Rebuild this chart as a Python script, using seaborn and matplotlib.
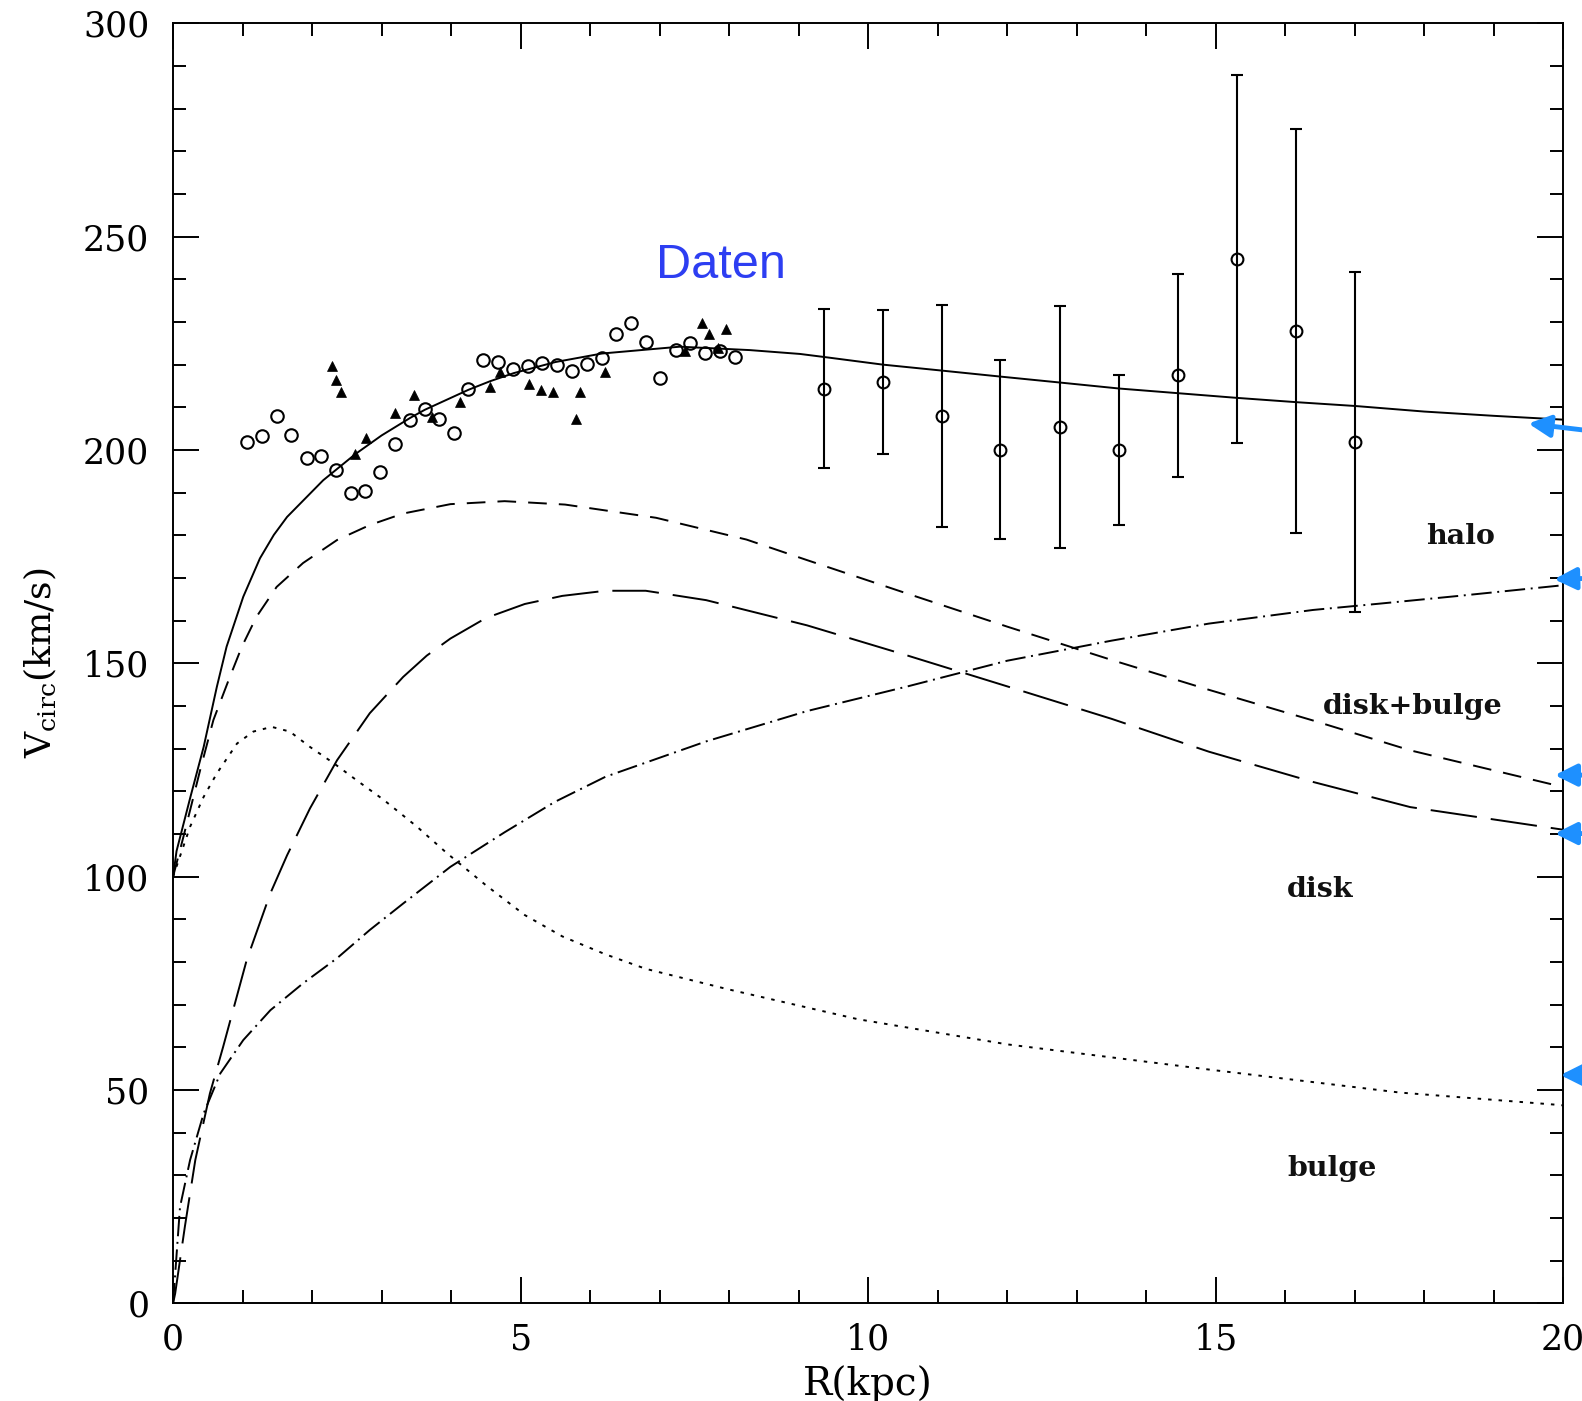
import matplotlib
matplotlib.use("Agg")
import matplotlib.pyplot as plt
import matplotlib.ticker as mticker
import numpy as np
import pandas as pd
import seaborn as sns

# ---- model curves: circular velocity (km/s) vs. radius (kpc) ----
R_total = [0, 0.05, 0.25, 0.44, 0.63, 0.77, 1.01, 1.25, 1.45, 1.64, 2.16, 2.62, 3.0, 3.41,
           3.62, 4.25, 4.56, 4.9, 5.5, 6.17, 7.29, 8.3, 9.02, 9.36, 10.21, 11.06, 11.9, 12.76,
           13.61, 14.46, 15.31, 16.16, 17.01, 18.0, 19.0, 20.0]
V_total = [100, 106, 118.7, 130.4, 144.5, 153.9, 165.6, 174.6, 180.1, 184.3, 192.9, 199.0,
           203.4, 207.5, 209.4, 214.1, 216.1, 218.0, 220.6, 222.6, 224.2, 223.4, 222.5, 221.8,
           220.0, 218.6, 217.2, 215.8, 214.4, 213.3, 212.2, 211.2, 210.3, 209.0, 208.0, 207.1]

R_diskbulge = [0, 0.15, 0.39, 0.58, 0.80, 0.99, 1.20, 1.49, 1.87, 2.36, 2.83, 3.31, 3.99,
               4.77, 5.64, 6.95, 8.25, 9.1, 10.57, 12.0, 13.5, 14.9, 16.4, 17.8, 20.0]
V_diskbulge = [100, 109.4, 125, 136.7, 146.1, 153.9, 160.9, 167.9, 173.5, 178.9, 182.4,
               185.1, 187.3, 188.0, 187.2, 184.1, 179.0, 174.3, 166.3, 158.6, 150.8, 143.8,
               136.6, 129.6, 121.0]

R_disk = [0, 0.03, 0.17, 0.32, 0.53, 0.72, 0.89, 1.06, 1.23, 1.40, 1.64, 1.97, 2.36, 2.83,
          3.31, 3.65, 3.99, 4.5, 5.06, 5.6, 6.22, 6.8, 7.67, 9.12, 10.57, 12.0, 13.5, 14.9,
          16.4, 17.8, 20.0]
V_disk = [0, 2.3, 18.0, 33.6, 49.2, 60.1, 70.3, 80.5, 88.3, 96.1, 105.0, 116.0, 127.3, 138.3,
          146.8, 151.8, 155.8, 160.6, 163.9, 165.8, 167.0, 167.0, 164.8, 158.9, 151.8, 144.6,
          137.0, 129.3, 122.2, 116.3, 111.0]

R_halo = [0, 0.1, 0.245, 0.44, 0.68, 1.01, 1.40, 1.87, 2.36, 2.83, 3.31, 3.99, 4.77, 5.49,
          6.22, 7.67, 9.12, 10.57, 12.0, 13.5, 14.9, 16.4, 17.37, 18.5, 20.0]
V_halo = [0, 22.6, 33.6, 44.5, 53.9, 61.7, 68.7, 75.0, 80.9, 87.5, 93.7, 102.3, 110.4, 117.5,
          123.4, 131.7, 138.8, 144.6, 150.6, 155.3, 159.3, 162.5, 164.0, 165.8, 168.3]

R_bulge = [0, 0.245, 0.44, 0.63, 0.92, 1.155, 1.42, 1.68, 1.97, 2.31, 2.64, 3.03, 3.51, 3.94,
           4.5, 5.06, 5.6, 6.22, 6.8, 7.96, 9.85, 12.0, 14.9, 17.65, 19.86, 20.0]
V_bulge = [100, 111.7, 118.7, 124.2, 131.2, 134.0, 135.1, 134.0, 130.4, 126.6, 122.6, 118.0,
           111.7, 105.5, 98.0, 91.0, 86.0, 81.8, 78.4, 73.7, 66.6, 60.7, 54.8, 49.4, 46.6, 46.4]

# ---- measurements ----
R_open = [1.07, 1.28, 1.49, 1.70, 1.92, 2.125, 2.34, 2.56, 2.76, 2.98, 3.19, 3.41, 3.62, 3.83,
          4.04, 4.25, 4.46, 4.68, 4.89, 5.10, 5.31, 5.53, 5.74, 5.95, 6.17, 6.37, 6.59, 6.80,
          7.01, 7.23, 7.44, 7.65, 7.87, 8.08]
V_open = [201.8, 203.3, 208.0, 203.4, 198.0, 198.6, 195.3, 189.8, 190.4, 194.9, 201.5, 207.1,
          209.7, 207.3, 203.9, 214.3, 221.0, 220.5, 219.0, 219.7, 220.4, 219.8, 218.5, 220.1,
          221.6, 227.2, 229.7, 225.4, 216.9, 223.4, 225.1, 222.7, 223.3, 221.8]

R_tri = [2.28, 2.35, 2.42, 2.62, 2.77, 3.19, 3.46, 3.73, 4.13, 4.56, 4.71, 5.12, 5.29, 5.47,
         5.80, 5.86, 6.22, 7.37, 7.61, 7.71, 7.84, 7.95]
V_tri = [219.7, 216.5, 213.5, 199.0, 202.7, 208.6, 212.8, 207.8, 211.2, 214.8, 218.3, 215.4,
         214.0, 213.5, 207.2, 213.6, 218.3, 223.3, 229.7, 227.2, 224.0, 228.3]

R_err = [9.36, 10.21, 11.06, 11.90, 12.76, 13.61, 14.46, 15.31, 16.16, 17.01]
V_err = [214.4, 215.9, 207.9, 200.1, 205.4, 200.0, 217.5, 244.7, 227.9, 201.9]
E_err = [18.7, 16.8, 26.0, 21.0, 28.4, 17.5, 23.8, 43.1, 47.4, 39.9]

# ---- component labels and arrow tips ----
labels = ["halo", "disk+bulge", "disk", "bulge"]
label_R = [18.52, 17.83, 16.5, 16.67]
label_V = [179.8, 139.9, 96.9, 31.6]

arrow_tip_R = [19.5, 19.87, 19.88, 19.88, 19.96]
arrow_tip_V = [206.2, 169.7, 123.8, 110.1, 53.5]
arrow_tail_V = [203.5, 170.0, 123.8, 110.1, 53.5]

sns.set_theme(style="ticks")
plt.rcParams["font.family"] = ["DejaVu Serif", "DejaVu Sans"]
plt.rcParams["mathtext.fontset"] = "dejavuserif"
plt.rcParams["text.color"] = "black"
plt.rcParams["axes.labelcolor"] = "black"

fig = plt.figure(figsize=(15.82, 14.01), dpi=100)
ax = fig.add_axes([0.1094, 0.0697, 0.8787, 0.9137])

LW = 1.4
curves = [
    (R_total, V_total, "-"),
    (R_diskbulge, V_diskbulge, (0, (9.6, 6.2))),
    (R_disk, V_disk, (0, (24, 7.2))),
    (R_halo, V_halo, (0, (10.5, 2.9, 1.0, 2.9))),
    (R_bulge, V_bulge, (0, (1.8, 3.6))),
]
for rr, vv, ls in curves:
    df = pd.DataFrame({"R": rr, "V": vv})
    sns.lineplot(data=df, x="R", y="V", color="black", lw=LW, ax=ax,
                 estimator=None, sort=False)
    ax.lines[-1].set_linestyle(ls)
    ax.lines[-1].set_solid_joinstyle("round")
    ax.lines[-1].set_dash_joinstyle("round")

# inner rotation-curve data
ax.plot(R_open, V_open, "o", ms=9, mfc="none", mec="black", mew=1.5)
ax.plot(R_tri, V_tri, "^", ms=7.5, mfc="black", mec="black", mew=0.5)

# outer data with error bars
ax.errorbar(R_err, V_err, yerr=E_err, fmt="o", ms=8.5, mfc="none", mec="black", mew=1.5,
            ecolor="black", elinewidth=1.5, capsize=4.3, capthick=1.5)

for txt, rx, vy in zip(labels, label_R, label_V):
    ax.text(rx, vy, txt, ha="center", va="center", fontsize=20.5, fontweight="bold",
            color="#111111")

ax.text(7.88, 243.3, "Daten", ha="center", va="center", fontsize=35,
        family=["Liberation Sans", "DejaVu Sans"], color="#2d3ef2")

for tr, tv, tail in zip(arrow_tip_R, arrow_tip_V, arrow_tail_V):
    tail_x = 20.9 if tr < 19.7 else 20.6
    ax.annotate("", xy=(tr, tv), xytext=(tail_x, tail), xycoords="data", textcoords="data",
                annotation_clip=False,
                arrowprops=dict(arrowstyle="-|>,head_length=1.1,head_width=0.55",
                                color="#1e90ff", lw=3.5, shrinkA=0, shrinkB=0))

ax.set_xlim(0, 20)
ax.set_ylim(0, 300)
ax.xaxis.set_major_locator(mticker.MultipleLocator(5))
ax.xaxis.set_minor_locator(mticker.MultipleLocator(1))
ax.yaxis.set_major_locator(mticker.MultipleLocator(50))
ax.yaxis.set_minor_locator(mticker.MultipleLocator(10))
ax.tick_params(which="both", direction="in", top=True, right=True, width=1.4,
               colors="black", labelsize=25)
ax.tick_params(which="major", length=18.5)
ax.tick_params(which="minor", length=9.5)
ax.tick_params(axis="y", pad=17)
ax.tick_params(axis="x", pad=14)
for sp in ax.spines.values():
    sp.set_linewidth(1.4)
    sp.set_color("black")

ax.set_xlabel("R(kpc)", fontsize=28, labelpad=6, color="black")
ax.set_ylabel(r"V$_{\rm circ}$(km/s)", fontsize=26, labelpad=18, color="black")

fig.savefig("out.png", dpi=100, facecolor="white")
